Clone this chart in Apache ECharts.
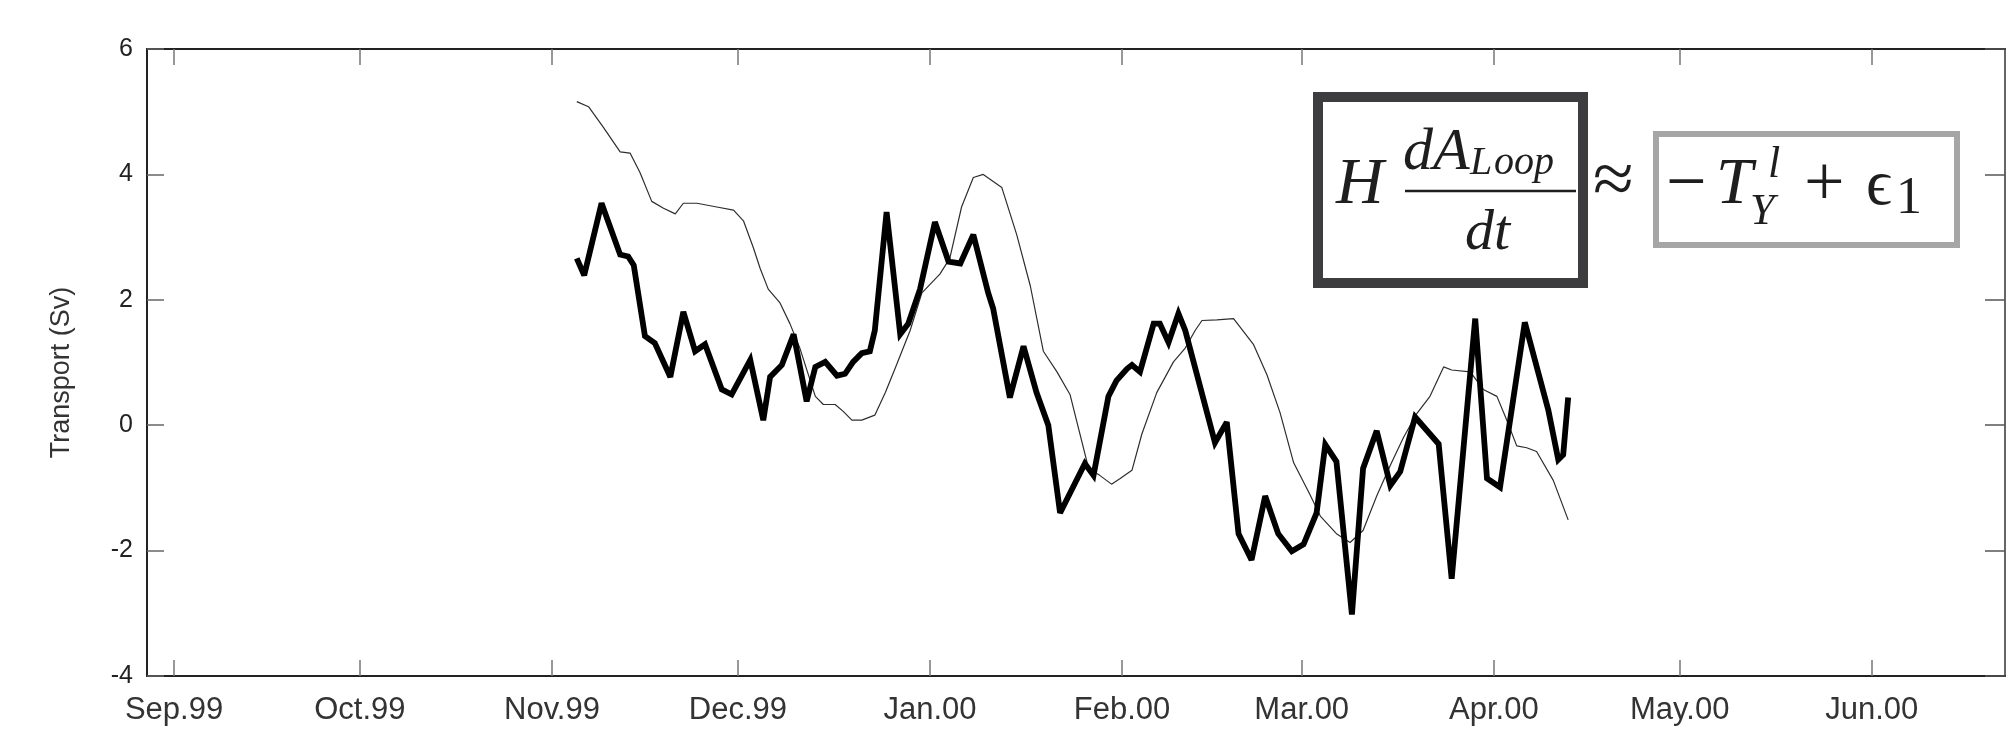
<!DOCTYPE html>
<html>
<head>
<meta charset="utf-8">
<script src="https://cdn.jsdelivr.net/npm/echarts@6/dist/echarts.min.js"></script>
<style>html,body{margin:0;padding:0;background:#fff}#c{width:2008px;height:730px}</style>
</head>
<body>
<div id="c"></div>
<script>
// x values: days since 1999-09-01
const tickDays = [0, 30, 61, 91, 122, 153, 182, 213, 243, 274];
const tickLabels = ['Sep.99', 'Oct.99', 'Nov.99', 'Dec.99', 'Jan.00', 'Feb.00', 'Mar.00', 'Apr.00', 'May.00', 'Jun.00'];
const yTicks = [-4, -2, 0, 2, 4, 6];

// thick line (H dA_Loop/dt)
const thickDays = [65.0, 66.2, 69.0, 72.0, 73.3, 74.2, 76.0, 77.6, 80.1, 82.2, 84.1, 85.7, 88.4, 90.0, 93.0, 95.1, 96.2, 98.1, 100.0, 102.1, 103.5, 105.1, 107.0, 108.3, 109.6, 111.0, 112.3, 113.1, 115.0, 117.2, 118.5, 120.4, 122.8, 125.0, 126.9, 129.0, 131.4, 132.2, 134.9, 137.1, 139.2, 141.1, 143.0, 147.0, 148.4, 150.8, 152.1, 153.8, 154.6, 155.9, 158.1, 159.1, 160.5, 162.1, 163.2, 168.0, 169.9, 171.8, 173.9, 176.1, 178.2, 180.4, 182.3, 184.4, 185.8, 187.6, 190.1, 191.9, 194.1, 196.3, 197.9, 200.3, 204.1, 206.2, 210.0, 211.9, 214.0, 218.0, 221.8, 223.4, 224.2, 225.0];
const thickVals = [2.66, 2.39, 3.54, 2.72, 2.69, 2.55, 1.42, 1.31, 0.77, 1.81, 1.18, 1.29, 0.57, 0.49, 1.04, 0.08, 0.77, 0.96, 1.45, 0.38, 0.93, 1.01, 0.79, 0.82, 1.01, 1.15, 1.18, 1.51, 3.40, 1.45, 1.62, 2.17, 3.24, 2.61, 2.58, 3.04, 2.11, 1.86, 0.44, 1.26, 0.52, 0.00, -1.40, -0.61, -0.80, 0.46, 0.71, 0.90, 0.96, 0.85, 1.62, 1.62, 1.32, 1.78, 1.51, -0.28, 0.05, -1.73, -2.15, -1.13, -1.73, -2.01, -1.90, -1.40, -0.31, -0.58, -3.02, -0.69, -0.09, -0.96, -0.74, 0.13, -0.30, -2.45, 1.70, -0.85, -0.99, 1.64, 0.24, -0.55, -0.47, 0.44];

// thin line (-T_Y^l + eps1)
const thinDays = [65.0, 66.9, 69.3, 72.0, 73.6, 75.2, 77.1, 79.0, 80.9, 82.2, 84.4, 87.6, 90.3, 91.9, 93.5, 94.6, 95.9, 97.8, 99.4, 101.0, 103.5, 104.8, 106.7, 108.0, 109.4, 111.0, 113.1, 114.8, 116.6, 118.8, 120.7, 123.6, 125.2, 127.1, 129.0, 130.6, 133.6, 136.0, 138.2, 140.3, 142.5, 144.6, 146.2, 147.6, 149.4, 151.3, 152.7, 154.6, 156.2, 158.6, 161.3, 163.2, 164.8, 165.9, 168.3, 171.0, 174.2, 176.4, 178.5, 180.7, 183.3, 185.0, 187.6, 189.8, 191.9, 194.1, 196.3, 198.4, 200.6, 202.7, 204.9, 206.2, 209.2, 211.3, 213.5, 215.1, 216.7, 218.3, 219.9, 222.6, 225.0];
const thinVals = [5.16, 5.08, 4.75, 4.36, 4.34, 4.03, 3.57, 3.46, 3.37, 3.54, 3.54, 3.48, 3.43, 3.26, 2.83, 2.50, 2.17, 1.95, 1.62, 1.23, 0.46, 0.33, 0.33, 0.22, 0.08, 0.08, 0.16, 0.52, 0.96, 1.51, 2.11, 2.41, 2.66, 3.48, 3.95, 4.00, 3.79, 3.04, 2.22, 1.18, 0.85, 0.49, -0.14, -0.69, -0.80, -0.94, -0.85, -0.72, -0.14, 0.52, 1.01, 1.23, 1.51, 1.67, 1.68, 1.70, 1.29, 0.80, 0.20, -0.60, -1.10, -1.45, -1.73, -1.87, -1.68, -1.13, -0.64, -0.20, 0.19, 0.46, 0.93, 0.88, 0.85, 0.57, 0.46, 0.08, -0.33, -0.36, -0.42, -0.88, -1.51];

const zip = (xs, ys) => xs.map((x, i) => [x, ys[i]]);

const chart = echarts.init(document.getElementById('c'), null, {renderer: 'canvas'});
const serif = '"Liberation Serif", "DejaVu Serif", serif';
const sans = '"Liberation Sans", Arial, sans-serif';
const tc = '#1e1e1e';
function t(text, x, y, size, italic) {
  return {
    type: 'text', x: x, y: y, z: 110,
    style: {text: text, font: (italic ? 'italic ' : '') + size + 'px ' + serif, fill: tc, align: 'left', verticalAlign: 'middle'}
  };
}
const xMin = -4.36, xMax = 295.5;
chart.setOption({
  animation: false,
  backgroundColor: '#ffffff',
  grid: {left: 147, top: 49, right: 3, bottom: 54, show: false},
  xAxis: [{
    type: 'value', min: xMin, max: xMax, position: 'bottom',
    axisLine: {show: true, onZero: false, lineStyle: {color: '#222', width: 2}},
    axisTick: {show: true, inside: true, length: 16, customValues: tickDays, lineStyle: {color: '#777', width: 1.5}},
    axisLabel: {show: true, customValues: tickDays, margin: 19, fontSize: 31, color: '#333', fontFamily: sans,
      formatter: v => tickLabels[tickDays.indexOf(Math.round(v))] || ''},
    splitLine: {show: false}
  }, {
    type: 'value', min: xMin, max: xMax, position: 'top',
    axisLine: {show: true, onZero: false, lineStyle: {color: '#222', width: 2}},
    axisTick: {show: true, inside: true, length: 16, customValues: tickDays, lineStyle: {color: '#777', width: 1.5}},
    axisLabel: {show: false}, splitLine: {show: false}
  }],
  yAxis: [{
    type: 'value', min: -4, max: 6, interval: 2, position: 'left',
    name: 'Transport (Sv)', nameLocation: 'middle', nameGap: 72,
    nameTextStyle: {fontSize: 27, color: '#333', fontFamily: sans, padding: [0, 20, 0, 0]},
    axisLine: {show: true, onZero: false, lineStyle: {color: '#222', width: 2}},
    axisTick: {show: true, inside: true, length: 17, lineStyle: {color: '#666', width: 1.5}},
    axisLabel: {show: true, margin: 14, fontSize: 25, color: '#222', fontFamily: sans},
    splitLine: {show: false}
  }, {
    type: 'value', min: -4, max: 6, interval: 2, position: 'right',
    axisLine: {show: true, onZero: false, lineStyle: {color: '#333', width: 1.5}},
    axisTick: {show: true, inside: true, length: 20, lineStyle: {color: '#555', width: 1.5}},
    axisLabel: {show: false}, splitLine: {show: false}
  }],
  series: [{
    type: 'line', name: 'thin', data: zip(thinDays, thinVals), showSymbol: false, symbol: 'none',
    lineStyle: {color: '#2e2e2e', width: 1.2}, z: 2
  }, {
    type: 'line', name: 'thick', data: zip(thickDays, thickVals), showSymbol: false, symbol: 'none',
    lineStyle: {color: '#000', width: 5.8, join: 'miter', miterLimit: 3}, z: 3
  }],
  graphic: [
    {type: 'rect', z: 100, shape: {x: 1318, y: 97, width: 265, height: 186}, style: {fill: '#fff', stroke: '#3d3d3f', lineWidth: 10}},
    {type: 'rect', z: 100, shape: {x: 1656, y: 134, width: 301, height: 111}, style: {fill: '#fff', stroke: '#a6a6a6', lineWidth: 6}},
    t('H', 1336, 186, 66, true),
    t('dA', 1403, 153, 60, true),
    t('L', 1470, 163, 40, true),
    t('oop', 1494, 163, 40, true),
    {type: 'line', z: 110, shape: {x1: 1405, y1: 191, x2: 1576, y2: 191}, style: {stroke: tc, lineWidth: 2.5}},
    t('dt', 1465, 234, 58, true),
    t('\u2248', 1593, 184, 74, false),
    t('\u2212', 1666, 186, 72, false),
    t('T', 1716, 186, 66, true),
    t('l', 1768, 165, 44, true),
    t('Y', 1750, 212, 44, true),
    t('+', 1804, 186, 72, false),
    t('\u03F5', 1866, 187, 64, false),
    t('1', 1896, 199, 52, false)
  ]
});
</script>
</body>
</html>
